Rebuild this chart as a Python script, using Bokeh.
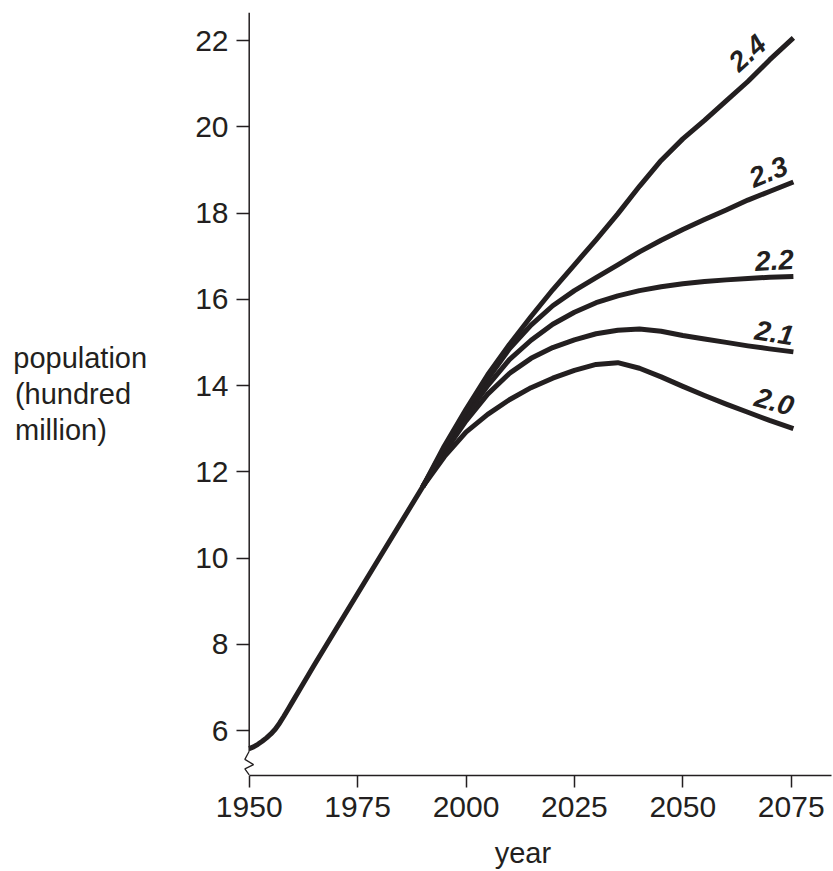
from bokeh.plotting import figure
from bokeh.models import FixedTicker, Range1d, ColumnDataSource
from bokeh.embed import file_html
from bokeh.resources import INLINE
from bokeh.core.properties import value

# ---------------- data ----------------
hist_years = [1950, 1951, 1952, 1953, 1954, 1955, 1956, 1957, 1958, 1959, 1960,
              1962, 1965, 1970, 1980, 1990]
hist_pop = [5.58, 5.62, 5.68, 5.75, 5.83, 5.92, 6.03, 6.17, 6.33, 6.50, 6.67,
            7.01, 7.52, 8.35, 10.00, 11.65]

proj_years = [1990, 1995, 2000, 2005, 2010, 2015, 2020, 2025, 2030, 2035,
              2040, 2045, 2050, 2055, 2060, 2065, 2070, 2075.5]
pop_tfr_20 = [11.65, 12.35, 12.92, 13.33, 13.67, 13.95, 14.17, 14.35, 14.49, 14.53,
              14.40, 14.20, 13.98, 13.77, 13.57, 13.38, 13.19, 13.00]
pop_tfr_21 = [11.65, 12.45, 13.18, 13.80, 14.28, 14.63, 14.88, 15.06, 15.20, 15.28,
              15.31, 15.26, 15.16, 15.08, 15.00, 14.92, 14.85, 14.78]
pop_tfr_22 = [11.65, 12.50, 13.30, 14.00, 14.60, 15.05, 15.42, 15.70, 15.92, 16.08,
              16.20, 16.29, 16.36, 16.41, 16.45, 16.48, 16.51, 16.53]
pop_tfr_23 = [11.65, 12.55, 13.40, 14.15, 14.85, 15.40, 15.85, 16.20, 16.50, 16.80,
              17.10, 17.37, 17.62, 17.85, 18.07, 18.30, 18.50, 18.72]
pop_tfr_24 = [11.65, 12.60, 13.45, 14.25, 14.95, 15.60, 16.22, 16.80, 17.38, 17.98,
              18.62, 19.22, 19.72, 20.15, 20.60, 21.05, 21.55, 22.06]
tfr_labels = ["2.0", "2.1", "2.2", "2.3", "2.4"]

x_ticks = [1950, 1975, 2000, 2025, 2050, 2075]
y_ticks = [6, 8, 10, 12, 14, 16, 18, 20, 22]

x_title = "year"
y_title_lines = ["population", "(hundred", "million)"]

# ---------------- styling ----------------
INK = "#231f20"
FONT = "Liberation Sans"
NBSP = "\u00a0"
X0, X1 = 1947.07, 2084.75          # frame range (axis drawn at 1950)
Y0, Y1 = 4.957, 22.65

p = figure(width=833, height=871,
           x_range=Range1d(X0, X1), y_range=Range1d(Y0, Y1),
           output_backend="svg", toolbar_location=None,
           min_border_left=236, min_border_right=0,
           min_border_top=12, min_border_bottom=96)
p.outline_line_color = None
p.grid.visible = False
p.background_fill_color = "white"
p.border_fill_color = "white"

for ax in (p.xaxis[0], p.yaxis[0]):
    ax.major_tick_line_color = INK
    ax.major_tick_line_width = 1.5
    ax.minor_tick_line_color = None
    ax.major_label_text_font = FONT
    ax.major_label_text_font_size = "30px"
    ax.major_label_text_color = INK
    ax.axis_label_text_font = FONT
    ax.axis_label_text_font_style = "normal"
    ax.axis_label_text_font_size = "29px"
    ax.axis_label_text_color = INK

p.xaxis.ticker = FixedTicker(ticks=x_ticks)
p.xaxis.axis_line_color = INK
p.xaxis.axis_line_width = 1.5
p.xaxis.bounds = (1950, 2084.3)
p.xaxis.major_tick_in = 0
p.xaxis.major_tick_out = 12
p.xaxis.major_label_standoff = 9
# trailing no-break spaces nudge the centred title to the left, as in the reference
p.xaxis.axis_label = x_title + NBSP * 3
p.xaxis.axis_label_standoff = 17

# y axis: ticks reach in from the frame edge to the axis line drawn at 1950
p.yaxis.ticker = FixedTicker(ticks=y_ticks)
p.yaxis.axis_line_color = None
p.yaxis.major_tick_out = 0
p.yaxis.major_tick_in = 13
p.yaxis.major_label_standoff = 8
# lines padded with no-break spaces so the right-anchored block reads left-aligned
pad = [0, 2, 5]
p.yaxis.axis_label = "\n".join(t + NBSP * k for t, k in zip(y_title_lines, pad))
p.yaxis.axis_label_orientation = "horizontal"
p.yaxis.axis_label_text_line_height = 1.13
p.yaxis.axis_label_standoff = 45

# y axis line and the axis-break zigzag below it
p.segment(x0=[1950], y0=[5.52], x1=[1950], y1=[Y1], line_color=INK, line_width=1.5)
zz_x = [1950, 1949.0, 1951.0, 1949.0, 1950]
zz_y = [5.52, 5.33, 5.21, 5.11, 4.97]
p.line(zz_x, zz_y, line_color=INK, line_width=1.3)

# curves
LW = 5
p.line(hist_years, hist_pop, line_color=INK, line_width=LW, line_join="round")
series = [pop_tfr_20, pop_tfr_21, pop_tfr_22, pop_tfr_23, pop_tfr_24]
for ys in series:
    p.line(proj_years, ys, line_color=INK, line_width=LW, line_join="round")

# end labels (pixel offsets from the last point, and rotation in degrees)
lab_dx = [-19, -19, -19, -25, -46]
lab_dy = [-27, -19, -16, -10, 15]
lab_ang = [-16, -9, 3, 22, 42]
src = ColumnDataSource(dict(
    x=[proj_years[-1]] * len(series),
    y=[s[-1] for s in series],
    t=tfr_labels, dx=lab_dx, dy=lab_dy, a=lab_ang))
p.text(x="x", y="y", text="t", x_offset="dx", y_offset="dy", angle="a",
       angle_units="deg", source=src, text_align="center", text_baseline="middle",
       text_font=value(FONT), text_font_style="bold italic",
       text_font_size="28px", text_color=INK)

open("out.html", "w").write(file_html(p, INLINE))
